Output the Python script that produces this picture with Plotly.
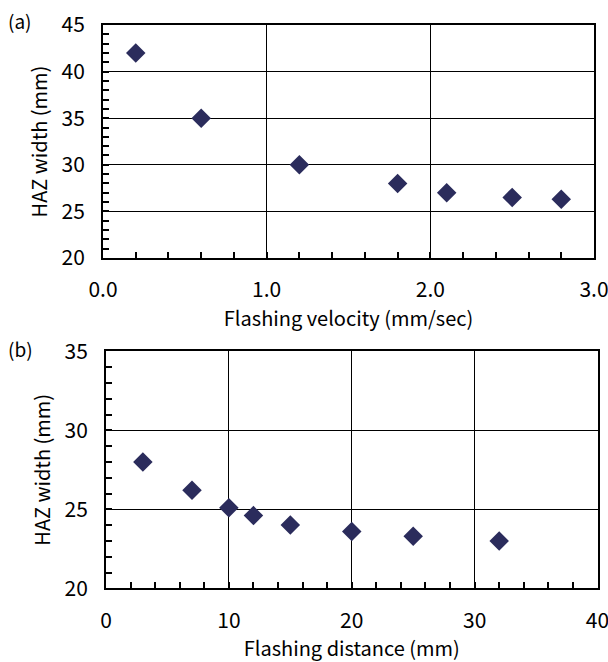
import plotly.graph_objects as go

# (a) HAZ width vs flashing velocity
velocity = [0.2, 0.6, 1.2, 1.8, 2.1, 2.5, 2.8]
haz_a = [42.0, 35.0, 30.0, 28.0, 27.0, 26.5, 26.3]

# (b) HAZ width vs flashing distance
distance = [3, 7, 10, 12, 15, 20, 25, 32]
haz_b = [28.0, 26.2, 25.1, 24.6, 24.0, 23.6, 23.3, 23.0]

W, H = 608, 662
FONT = "Noto Sans CJK JP, Noto Sans, sans-serif"
MARK = "#2b2c5c"

fig = go.Figure()
fig.add_trace(go.Scatter(x=velocity, y=haz_a, mode="markers", xaxis="x", yaxis="y",
                         marker=dict(symbol="diamond", size=15, color=MARK), showlegend=False))
fig.add_trace(go.Scatter(x=distance, y=haz_b, mode="markers", xaxis="x2", yaxis="y2",
                         marker=dict(symbol="diamond", size=15, color=MARK), showlegend=False))


def px_x(a, b):
    return [a / W, b / W]


def px_y(top, bottom):
    return [1 - bottom / H, 1 - top / H]


common = dict(showline=True, mirror=True, linewidth=2, linecolor="black",
              showgrid=True, gridcolor="black", gridwidth=1, zeroline=False,
              ticks="inside", ticklen=6, tickcolor="black", tickwidth=1.5,
              automargin=False, ticklabeloverflow="allow", ticklabelstandoff=12,
              tickfont=dict(family=FONT, size=21, color="black"),
              title_font=dict(family=FONT, size=20, color="black"))

fig.update_layout(
    width=W, height=H, margin=dict(l=0, r=0, t=0, b=0),
    paper_bgcolor="white", plot_bgcolor="white",
    xaxis=dict(domain=px_x(103, 594), anchor="y", range=[0, 3], dtick=1, tickformat=".1f",
               minor=dict(dtick=0.2, ticks="inside", ticklen=6, tickcolor="black", showgrid=False),
               title=dict(text="Flashing velocity (mm/sec)", standoff=0), **common),
    yaxis=dict(domain=px_y(25, 258), anchor="x", range=[20, 45], dtick=5,
               minor=dict(dtick=1, ticks="inside", ticklen=6, tickcolor="black", showgrid=False),
               title=dict(text="HAZ width (mm)", standoff=8), **common),
    xaxis2=dict(domain=px_x(106, 597.5), anchor="y2", range=[0, 40], dtick=10,
                minor=dict(dtick=2, ticks="inside", ticklen=6, tickcolor="black", showgrid=False),
                title=dict(text="Flashing distance (mm)", standoff=0), **common),
    yaxis2=dict(domain=px_y(351.3, 588.3), anchor="x2", range=[20, 35], dtick=5,
                minor=dict(dtick=1, ticks="inside", ticklen=6, tickcolor="black", showgrid=False),
                title=dict(text="HAZ width (mm)", standoff=8), **common),
    annotations=[
        dict(text="(a)", x=6 / W, y=1 - 5 / H, xref="paper", yref="paper", xanchor="left", yanchor="top",
             showarrow=False, font=dict(family=FONT, size=19, color="black")),
        dict(text="(b)", x=6 / W, y=1 - 333 / H, xref="paper", yref="paper", xanchor="left", yanchor="top",
             showarrow=False, font=dict(family=FONT, size=19, color="black")),
    ],
)

fig.write_html("out.html")
